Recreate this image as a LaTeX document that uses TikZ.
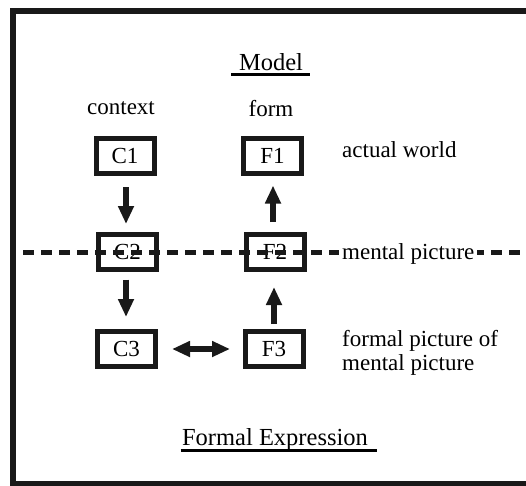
\documentclass[tikz,border=0pt]{standalone}
\usepackage{fontspec}
\setmainfont{Liberation Serif}
\usetikzlibrary{arrows.meta}
\begin{document}
\begin{tikzpicture}[x=1pt,y=-1pt,
  box/.style={draw=black!90, line width=5pt, minimum width=58pt, minimum height=35pt, inner sep=0pt, font=\fontsize{23}{23}\selectfont, fill=white},
  lbl/.style={font=\fontsize{23}{24}\selectfont, inner sep=0pt},
  big/.style={font=\fontsize{24.5}{24.5}\selectfont, inner sep=0pt},
  blk/.style={line width=6pt, draw=black!90, -{Triangle[width=15pt,length=18pt]}, shorten >=0pt},
  blkboth/.style={line width=6pt, draw=black!90, {Triangle[width=15pt,length=18pt]}-{Triangle[width=15pt,length=18pt]}},
  dashline/.style={line width=5pt, draw=black!90, dash pattern=on 11pt off 7pt}
]
\useasboundingbox (0,0) rectangle (526,485);
\draw[line width=6pt, draw=black!90] (13,545) -- (13,11) -- (560,11);
\draw[line width=6pt, draw=black!90] (13,484) -- (560,484);

\node[big, anchor=base] (model) at (271,70) {Model};
\draw[line width=3pt] (231,74.5) -- (310,74.5);
\node[lbl, anchor=base] (context) at (121,114) {context};
\node[lbl, anchor=base] (form) at (271,116) {form};

\node[box] (C1) at (125,156) {C1};
\node[box] (F1) at (272.5,156) {F1};
\node[box] (C2) at (127.5,252) {C2};
\node[box] (F2) at (275,252) {F2};
\node[box] (C3) at (126.5,349) {C3};
\node[box] (F3) at (274,349) {F3};

\node[lbl, anchor=base west] (aw) at (342,157) {actual world};
\node[lbl, anchor=north west, align=left] (fp) at (342,330) {formal picture of\\mental picture};

\coordinate (dl) at (23,252);
\coordinate (dr) at (526,252);
\draw[dashline] (dl) -- (dr);
\node[lbl, anchor=base west, fill=white, inner xsep=3pt] (mp) at (339,259) {mental picture};

\coordinate (a1s) at (126,187);
\coordinate (a1e) at (126,224);
\draw[blk] (a1s) -- (a1e);
\coordinate (a2s) at (273,222);
\coordinate (a2e) at (273,185.5);
\draw[blk] (a2s) -- (a2e);
\coordinate (a3s) at (126,279.5);
\coordinate (a3e) at (126,317);
\draw[blk] (a3s) -- (a3e);
\coordinate (a4s) at (274,324);
\coordinate (a4e) at (274,287);
\draw[blk] (a4s) -- (a4e);
\coordinate (a5s) at (172,349);
\coordinate (a5e) at (230,349);
\draw[blkboth] (a5s) -- (a5e);

\node[big, anchor=base] (fe) at (275,445) {Formal Expression};
\draw[line width=3pt] (180.5,450) -- (377,450);
\end{tikzpicture}
\end{document}
